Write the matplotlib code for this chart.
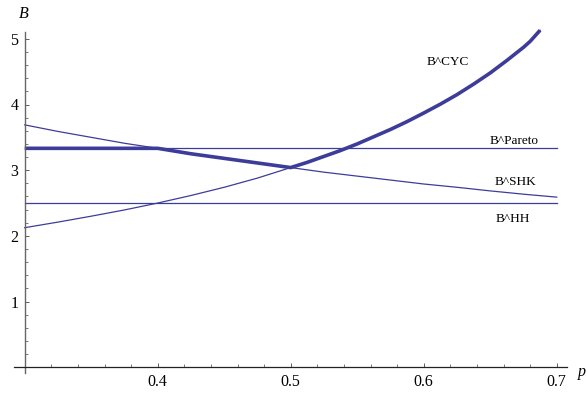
#!/usr/bin/env python3
import numpy as np
import matplotlib
matplotlib.use("Agg")
import matplotlib.pyplot as plt
from matplotlib.ticker import MultipleLocator, FixedLocator

# ------------------------------------------------------------------------
# DATA
# ------------------------------------------------------------------------
p_grid = [0.30, 0.325, 0.35, 0.375, 0.40, 0.425, 0.45, 0.475, 0.50,
          0.525, 0.55, 0.575, 0.60, 0.625, 0.65, 0.675, 0.70]

b_shk = [3.69, 3.59, 3.50, 3.41, 3.333, 3.25, 3.18, 3.11, 3.04,
         2.97, 2.91, 2.85, 2.79, 2.74, 2.685, 2.635, 2.59]

p_cyc = [0.30, 0.325, 0.35, 0.375, 0.40, 0.425, 0.45, 0.475, 0.50,
         0.5125, 0.525, 0.5375, 0.55, 0.5625, 0.575, 0.5875, 0.60,
         0.6125, 0.625, 0.6375, 0.65, 0.6625, 0.675, 0.68, 0.6875]
b_cyc = [2.125, 2.21, 2.30, 2.395, 2.50, 2.615, 2.74, 2.88, 3.04,
         3.12, 3.21, 3.30, 3.40, 3.51, 3.62, 3.74, 3.87,
         4.005, 4.15, 4.31, 4.48, 4.67, 4.87, 4.96, 5.13]

b_pareto = 3.333
b_hh = 2.50
p_min, p_max = 0.30, 0.70

labels = {"B^CYC": (0.618, 4.65), "B^Pareto": (0.668, 3.45),
          "B^SHK": (0.669, 2.815), "B^HH": (0.667, 2.255)}

COLOR = "#3d3d99"
SERIF = ["Liberation Serif", "DejaVu Serif"]

# ------------------------------------------------------------------------
# PLOT
# ------------------------------------------------------------------------
fig = plt.figure(figsize=(5.87, 3.93), dpi=100)
W, H = 587.0, 393.0
# x: 0.3 at px 24.7, 1330 px per unit ; y: 0 at px 367.3, 65.7 px per unit
x0, xs = 24.7, 1330.0
y0, ys = 367.3, 65.7
left_px, right_px = 14.0, 567.0
top_px, bot_px = 31.7, 373.0
ax = fig.add_axes([left_px / W, (H - bot_px) / H,
                   (right_px - left_px) / W, (bot_px - top_px) / H])
ax.set_xlim(p_min + (left_px - x0) / xs, p_min + (right_px - x0) / xs)
ax.set_ylim(-(bot_px - y0) / ys, (y0 - top_px) / ys)

# thin curves
ax.plot([p_min, p_max], [b_pareto, b_pareto], color=COLOR, lw=0.9)
ax.plot([p_min, p_max], [b_hh, b_hh], color=COLOR, lw=0.9)
ax.plot(p_grid, b_shk, color=COLOR, lw=0.9)
ax.plot(p_cyc, b_cyc, color=COLOR, lw=0.9, clip_on=False)

# thick envelope: Pareto up to 0.4, SHK from 0.4 to 0.5, CYC afterwards
i4 = p_grid.index(0.40)
i5 = p_grid.index(0.50)
j5 = p_cyc.index(0.50)
thick_p = [p_min] + p_grid[i4:i5 + 1] + p_cyc[j5 + 1:]
thick_b = [b_pareto] + b_shk[i4:i5 + 1] + b_cyc[j5 + 1:]
ax.plot(thick_p, thick_b, color=COLOR, lw=2.6, clip_on=False,
        solid_capstyle="butt", solid_joinstyle="round")

for txt, (px, py) in labels.items():
    ax.text(px, py, txt, ha="center", va="center", fontsize=9.5,
            family=SERIF)

# Mathematica-like axes crossing at (0.3, 0)
for s in ["top", "right"]:
    ax.spines[s].set_visible(False)
ax.spines["left"].set_position(("data", p_min))
ax.spines["bottom"].set_position(("data", 0))
ax.spines["left"].set_color("#666666")
ax.spines["bottom"].set_color("#222222")
ax.spines["left"].set_linewidth(1.0)
ax.spines["bottom"].set_linewidth(0.9)

ax.xaxis.set_major_locator(FixedLocator([0.4, 0.5, 0.6, 0.7]))
ax.xaxis.set_minor_locator(MultipleLocator(0.02))
ax.yaxis.set_major_locator(FixedLocator([1, 2, 3, 4, 5]))
ax.yaxis.set_minor_locator(MultipleLocator(0.2))
ax.set_xticklabels(["0.4", "0.5", "0.6", "0.7"])
ax.set_yticklabels(["1", "2", "3", "4", "5"])
ax.tick_params(which="major", direction="in", length=3.2, width=0.6,
               color="#444444", labelsize=11.5, pad=4.5)
ax.tick_params(which="minor", direction="in", length=2.0, width=0.5,
               color="#444444")
for lab in ax.get_xticklabels() + ax.get_yticklabels():
    lab.set_family(SERIF)

fig.text(24 / W, 1 - 14 / H, "B", ha="center", va="center", fontsize=11.5,
         family=SERIF, style="italic")
fig.text(578 / W, 1 - 371.5 / H, "p", ha="left", va="center", fontsize=11.5,
         family=SERIF, style="italic")

fig.savefig("out.png", dpi=100)
